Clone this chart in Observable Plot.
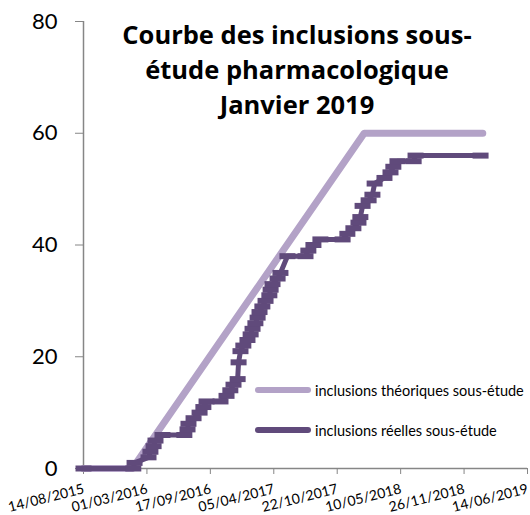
<!DOCTYPE html>
<html>
<head>
<meta charset="utf-8">
<script src="https://cdn.jsdelivr.net/npm/d3@7"></script>
<script src="https://cdn.jsdelivr.net/npm/@observablehq/plot@0.6"></script>
<style>
  html, body { margin: 0; padding: 0; background: #fff; }
  #wrap { position: relative; width: 530px; height: 515px; font-family: Lato, "Open Sans", sans-serif; }
  #title { position: absolute; left: 87px; width: 420px; top: 17px; text-align: center; font-family: "Open Sans", Lato, sans-serif; font-weight: 700; font-size: 25.5px; line-height: 35px; color: #000; }
  .leg { position: absolute; left: 255px; height: 20px; display: flex; align-items: center; font-size: 14.5px; color: #000; white-space: nowrap; }
  .leg .sw { width: 56px; height: 6px; border-radius: 3px; margin-right: 4px; }
</style>
</head>
<body>
<div id="wrap">
  <div id="chart"></div>
  <div id="title">Courbe des inclusions sous-<br>étude pharmacologique<br>Janvier 2019</div>
  <div class="leg" style="top:380px"><div class="sw" style="background:#b3a2c7"></div>inclusions théoriques sous-étude</div>
  <div class="leg" style="top:420px"><div class="sw" style="background:#604a7b"></div>inclusions réelles sous-étude</div>
</div>
<script>
// ---- data ----
const xTickLabels = ["14/08/2015","01/03/2016","17/09/2016","05/04/2017","22/10/2017","10/05/2018","26/11/2018","14/06/2019"];
const yTicks = [0, 20, 40, 60, 80];

const theoDates  = ["2015-08-14","2016-01-15","2018-01-15","2019-01-24"];
const theoValues = [0, 0, 60, 60];

const reelDates = [
  "2015-08-14","2016-01-18","2016-01-22","2016-03-06","2016-03-12","2016-03-22","2016-03-28",
  "2016-04-19","2016-06-27","2016-07-07","2016-07-10","2016-07-26","2016-08-14","2016-08-26",
  "2016-09-05","2016-10-19","2016-11-07","2016-11-19","2016-11-29","2016-12-12","2016-12-15",
  "2016-12-21","2016-12-30","2017-01-12","2017-01-22","2017-01-28","2017-02-06","2017-02-13",
  "2017-02-19","2017-02-28","2017-03-10","2017-03-22","2017-03-26","2017-04-01","2017-04-17",
  "2017-04-26","2017-05-18","2017-07-14","2017-07-23","2017-08-08","2017-08-30","2017-11-08",
  "2017-11-23","2017-12-12","2017-12-28","2018-01-03","2018-01-10","2018-01-29","2018-02-10",
  "2018-02-17","2018-03-20","2018-04-08","2018-04-17","2018-04-30","2018-06-20","2018-06-26",
  "2019-01-17"
];
const reelValues = [
  0,0,1,2,3,4,5,
  6,6,7,8,9,10,11,
  12,12,13,14,15,16,19,
  21,22,23,24,25,26,27,
  28,29,30,31,32,33,34,
  35,38,38,39,40,41,41,
  42,43,44,45,47,48,49,
  51,52,53,54,55,55,56,
  56
];

// ---- build tables ----
const parseISO = d3.utcParse("%Y-%m-%d");
const parseFR = d3.utcParse("%d/%m/%Y");
const theo = theoDates.map((d, i) => ({date: parseISO(d), value: theoValues[i]}));
const reel = reelDates.map((d, i) => ({date: parseISO(d), value: reelValues[i]}));
const ticks = xTickLabels.map(s => ({date: parseFR(s), label: s}));

const light = "#b3a2c7", dark = "#604a7b", axisGray = "#868686";
const dash = { draw(ctx) { ctx.rect(-8, -3, 16, 6); } };

const chart = Plot.plot({
  width: 530,
  height: 515,
  marginTop: 21,
  marginBottom: 47,
  marginLeft: 83,
  marginRight: 3,
  style: { fontFamily: "Lato, 'Open Sans', sans-serif", background: "white" },
  x: { type: "utc", domain: [ticks[0].date, ticks[ticks.length - 1].date], axis: null },
  y: { domain: [0, 80], axis: null },
  marks: [
    Plot.ruleY([0], { stroke: axisGray, strokeWidth: 1.5 }),
    Plot.ruleX([ticks[0].date], { y1: 0, y2: 80, stroke: axisGray, strokeWidth: 1.5 }),
    Plot.axisY({ ticks: yTicks, tickSize: 8, tickPadding: 18, stroke: axisGray, fill: "black", fontSize: 22, tickFormat: d => d, label: null }),
    Plot.axisX({ ticks: ticks.map(t => t.date), tickSize: 6, stroke: axisGray, fill: "none", label: null }),
    Plot.text(ticks, { x: "date", text: "label", frameAnchor: "bottom", rotate: -14, textAnchor: "end", lineAnchor: "top", dy: 15, dx: -1, fontSize: 14, fill: "black" }),
    Plot.line(theo, { x: "date", y: "value", stroke: light, strokeWidth: 7, strokeLinecap: "round" }),
    Plot.line(reel, { x: "date", y: "value", stroke: dark, strokeWidth: 5, strokeLinecap: "round" }),
    Plot.dot(reel, { x: "date", y: "value", symbol: dash, fill: dark, stroke: "none", r: 5 })
  ]
});
document.getElementById("chart").appendChild(chart);
</script>
</body>
</html>
